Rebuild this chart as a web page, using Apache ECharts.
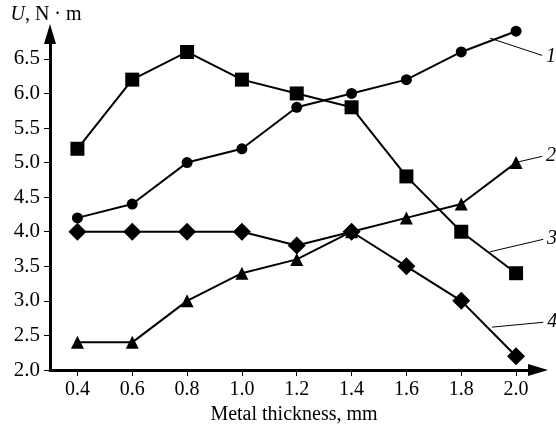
<!DOCTYPE html>
<html>
<head>
<meta charset="utf-8">
<script src="https://cdn.jsdelivr.net/npm/echarts@6/dist/echarts.min.js"></script>
<style>html,body{margin:0;padding:0;background:#fff}#c{width:556px;height:429px}</style>
</head>
<body>
<div id="c"></div>
<script>
const xValues = [0.4, 0.6, 0.8, 1.0, 1.2, 1.4, 1.6, 1.8, 2.0];
const yTicks = [2.0, 2.5, 3.0, 3.5, 4.0, 4.5, 5.0, 5.5, 6.0, 6.5];
const curve1 = [4.2, 4.4, 5.0, 5.2, 5.8, 6.0, 6.2, 6.6, 6.9];
const curve2 = [2.4, 2.4, 3.0, 3.4, 3.6, 4.0, 4.2, 4.4, 5.0];
const curve3 = [5.2, 6.2, 6.6, 6.2, 6.0, 5.8, 4.8, 4.0, 3.4];
const curve4 = [4.0, 4.0, 4.0, 4.0, 3.8, 4.0, 3.5, 3.0, 2.2];
const curveNames = ['1', '2', '3', '4'];
// leader lines for curve labels: [start, end] in data units
const leader1 = [[1.905, 6.80], [2.095, 6.55]];
const leader2 = [[2.008, 5.01], [2.095, 5.09]];
const leader3 = [[1.905, 3.71], [2.099, 3.89]];
const leader4 = [[1.912, 2.62], [2.099, 2.69]];

const font = 'Liberation Serif';
const chart = echarts.init(document.getElementById('c'), null, {renderer: 'canvas'});

function mk(name, values, symbol, size) {
  return {
    type: 'line',
    name: name,
    data: xValues.map((x, i) => [x, values[i]]),
    symbol: symbol,
    symbolSize: size,
    showAllSymbol: true,
    clip: false,
    lineStyle: {color: '#000', width: 2},
    itemStyle: {color: '#000'},
    emphasis: {disabled: true}
  };
}

const leaders = [leader1, leader2, leader3, leader4];

chart.setOption({
  animation: false,
  backgroundColor: '#fff',
  grid: {left: 50, right: 18, top: 34, bottom: 59, outerBoundsMode: 'none', containLabel: false},
  xAxis: {
    type: 'value', min: 0.3, max: 2.08,
    name: 'Metal thickness, mm', nameLocation: 'middle', nameGap: 33,
    nameTextStyle: {fontFamily: font, fontSize: 20, color: '#000'},
    axisLine: {show: true, lineStyle: {color: '#000', width: 3}, symbol: ['none', 'triangle'], symbolSize: [12, 20]},
    axisTick: {show: true, length: 6, lineStyle: {color: '#000', width: 1}, customValues: xValues},
    axisLabel: {fontFamily: font, fontSize: 20, color: '#000', margin: 10, customValues: xValues, formatter: v => v.toFixed(1)},
    splitLine: {show: false}
  },
  yAxis: {
    type: 'value', min: 2.0, max: 6.86,
    name: '{i|U}, N · m', nameLocation: 'end', nameGap: 9,
    nameTextStyle: {fontFamily: font, fontSize: 20, color: '#000', align: 'center', padding: [0, 8, 0, 0],
      rich: {i: {fontFamily: font, fontSize: 20, fontStyle: 'italic', color: '#000'}}},
    axisLine: {show: true, lineStyle: {color: '#000', width: 3}, symbol: ['none', 'triangle'], symbolSize: [12, 20]},
    axisTick: {show: true, length: 6, lineStyle: {color: '#000', width: 1}, customValues: yTicks},
    axisLabel: {fontFamily: font, fontSize: 21, color: '#000', margin: 10, customValues: yTicks, formatter: v => v.toFixed(1)},
    splitLine: {show: false}
  },
  series: [
    mk(curveNames[0], curve1, 'circle', 11),
    mk(curveNames[1], curve2, 'triangle', 13),
    mk(curveNames[2], curve3, 'rect', 14),
    mk(curveNames[3], curve4, 'diamond', 18),
    {
      type: 'lines',
      coordinateSystem: 'cartesian2d',
      clip: false,
      silent: true,
      symbol: 'none',
      lineStyle: {color: '#000', width: 1, opacity: 1, curveness: 0},
      label: {
        show: true, position: 'end', distance: 4,
        formatter: p => p.name,
        fontFamily: font, fontStyle: 'italic', fontSize: 20, color: '#000'
      },
      data: leaders.map((l, i) => ({name: curveNames[i], coords: [l[0], l[1]]}))
    }
  ]
});
</script>
</body>
</html>
